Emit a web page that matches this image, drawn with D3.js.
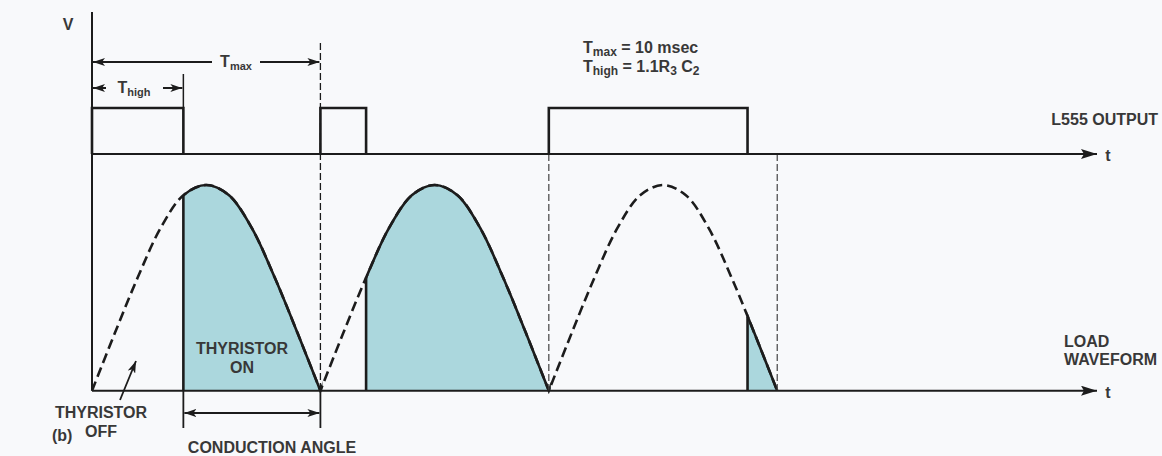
<!DOCTYPE html>
<html>
<head>
<meta charset="utf-8">
<script src="https://cdn.jsdelivr.net/npm/d3@7"></script>
<style>
  html, body { margin: 0; padding: 0; background: #f8f9fb; }
  svg { display: block; font-family: "Liberation Sans", Arial, sans-serif; }
  .lbl { fill: #383838; font-size: 16px; font-weight: bold; }
</style>
</head>
<body>
<svg width="1162" height="456"></svg>
<script>
// --- data (time in msec) ---
let halfPeriod = 10;                      // Tmax = 10 msec
let cycleStarts = [0, 10, 20];            // mains half cycles
let firingTimes = [4.0, 12.0, 28.7];      // thyristor fires at end of L555 pulse
let pulses = [[0, 4.0], [10, 12.0], [20, 28.7]];   // L555 output high intervals
let halfCycle = [0, 0.28, 0.55, 0.79, 0.95, 1, 0.95, 0.79, 0.55, 0.28, 0]; // amplitude at 1 ms steps
let tMax = 44;

let svg = d3.select("svg");
let x = d3.scaleLinear().domain([0, tMax]).range([92, 1097]);
let yOut = d3.scaleLinear().domain([0, 1]).range([154, 108]);
let yLoad = d3.scaleLinear().domain([0, 1]).range([390.7, 185]);
let ink = "#1c1c1c";

let defs = svg.append("defs");
defs.append("marker").attr("id", "arr")
    .attr("viewBox", "0 0 12 8").attr("refX", 12).attr("refY", 4)
    .attr("markerWidth", 12).attr("markerHeight", 8)
    .attr("markerUnits", "userSpaceOnUse").attr("orient", "auto-start-reverse")
    .append("path").attr("d", "M0,0 L12,4 L0,8 L3,4 Z").attr("fill", ink);
defs.append("marker").attr("id", "axarr")
    .attr("viewBox", "0 0 16 10").attr("refX", 16).attr("refY", 5)
    .attr("markerWidth", 16).attr("markerHeight", 10)
    .attr("markerUnits", "userSpaceOnUse").attr("orient", "auto")
    .append("path").attr("d", "M0,0 L16,5 L0,10 L3,5 Z").attr("fill", ink);

// points of the load waveform
let pts = [];
cycleStarts.forEach(c => halfCycle.forEach((v, i) => pts.push([c + i * halfPeriod / (halfCycle.length - 1), v])));
let steps = halfCycle.map((v, i) => i * halfPeriod / (halfCycle.length - 1));
let interp = d3.scaleLinear().domain(steps).range(halfCycle);

let line = d3.line().x(d => x(d[0])).y(d => yLoad(d[1])).curve(d3.curveCatmullRom);
let area = d3.area().x(d => x(d[0])).y0(yLoad(0)).y1(d => yLoad(d[1])).curve(d3.curveCatmullRom);

// clip regions: from firing to end of its half cycle
firingTimes.forEach((f, i) => {
    let end = cycleStarts[i] + halfPeriod;
    defs.append("clipPath").attr("id", "on" + i)
        .append("rect").attr("x", x(f)).attr("y", 0)
        .attr("width", x(end) - x(f) + 2).attr("height", yLoad(0));
});

// filled conduction areas
firingTimes.forEach((f, i) => {
    svg.append("path").datum(pts).attr("d", area)
        .attr("fill", "#abd7dd").attr("clip-path", "url(#on" + i + ")");
});

// dashed (thyristor off) waveform
svg.append("path").datum(pts).attr("d", line)
    .attr("fill", "none").attr("stroke", ink).attr("stroke-width", 2.6)
    .attr("stroke-dasharray", "10,5");

// solid conducting parts
firingTimes.forEach((f, i) => {
    svg.append("path").datum(pts).attr("d", line)
        .attr("fill", "none").attr("stroke", ink).attr("stroke-width", 2.6)
        .attr("clip-path", "url(#on" + i + ")");
    svg.append("line")
        .attr("x1", x(f)).attr("x2", x(f))
        .attr("y1", yLoad(0)).attr("y2", yLoad(interp(f - cycleStarts[i])))
        .attr("stroke", ink).attr("stroke-width", 2.6);
});

// dashed verticals at cycle boundaries
svg.append("line").attr("x1", x(10)).attr("x2", x(10)).attr("y1", 43).attr("y2", yLoad(0))
    .attr("stroke", ink).attr("stroke-width", 1.3).attr("stroke-dasharray", "7,3");
[20, 30].forEach(t => svg.append("line").attr("x1", x(t)).attr("x2", x(t))
    .attr("y1", yOut(0)).attr("y2", yLoad(0))
    .attr("stroke", "#444").attr("stroke-width", 1.2).attr("stroke-dasharray", "7,3"));

// L555 output pulses
svg.selectAll(".pulse").data(pulses).enter().append("path")
    .attr("class", "pulse")
    .attr("d", d => `M${x(d[0])},${yOut(0)} V${yOut(1)} H${x(d[1])} V${yOut(0)}`)
    .attr("fill", "none").attr("stroke", ink).attr("stroke-width", 2.6);

// axes
svg.append("line").attr("x1", x(0)).attr("x2", x(0)).attr("y1", 12).attr("y2", yLoad(0))
    .attr("stroke", ink).attr("stroke-width", 2);
[yOut(0), yLoad(0)].forEach(yy => svg.append("line")
    .attr("x1", x(0)).attr("x2", x(tMax)).attr("y1", yy).attr("y2", yy)
    .attr("stroke", ink).attr("stroke-width", 2).attr("marker-end", "url(#axarr)"));

// Tmax / Thigh dimension arrows
function dim(x1, x2, y, gap1, gap2) {
    svg.append("line").attr("x1", x1).attr("x2", gap1).attr("y1", y).attr("y2", y)
        .attr("stroke", ink).attr("stroke-width", 2).attr("marker-start", "url(#arr)");
    svg.append("line").attr("x1", gap2).attr("x2", x2).attr("y1", y).attr("y2", y)
        .attr("stroke", ink).attr("stroke-width", 2).attr("marker-end", "url(#arr)");
}
dim(x(0) + 1, x(10) - 1, 62, 212, 260);
dim(x(0) + 1, x(4.0) - 1, 88, 106, 163);
svg.append("line").attr("x1", x(4.0)).attr("x2", x(4.0)).attr("y1", 74).attr("y2", yOut(1))
    .attr("stroke", ink).attr("stroke-width", 1.5);

function tsub(xx, yy, sub, anchor, size) {
    let t = svg.append("text").attr("class", "lbl").attr("x", xx).attr("y", yy)
        .attr("text-anchor", anchor || "start").attr("font-size", size || 15);
    t.append("tspan").text("T");
    t.append("tspan").attr("dy", 3).attr("font-size", (size || 15) - 4).text(sub);
    return t;
}
tsub(236, 67, "max", "middle");
tsub(134, 93, "high", "middle");

// conduction angle arrow
[x(4.0), x(10)].forEach(xx => svg.append("line").attr("x1", xx).attr("x2", xx)
    .attr("y1", yLoad(0)).attr("y2", 428).attr("stroke", ink).attr("stroke-width", 1.8));
svg.append("line").attr("x1", x(4.0) + 1).attr("x2", x(10) - 1).attr("y1", 413).attr("y2", 413)
    .attr("stroke", ink).attr("stroke-width", 2)
    .attr("marker-start", "url(#arr)").attr("marker-end", "url(#arr)");

// thyristor off pointer
svg.append("line").attr("x1", 120).attr("y1", 400).attr("x2", 136).attr("y2", 361)
    .attr("stroke", ink).attr("stroke-width", 1.8).attr("marker-end", "url(#arr)");

// labels
let txt = (s, xx, yy, anchor, size) => svg.append("text").attr("class", "lbl")
    .attr("x", xx).attr("y", yy).attr("text-anchor", anchor || "start")
    .attr("font-size", size || 16).text(s);
txt("V", 68, 30, "middle", 15).attr("font-weight", "normal");
txt("t", 1108, 161, "middle", 15).attr("font-weight", "normal");
txt("t", 1108, 398, "middle", 15).attr("font-weight", "normal");
txt("L555 OUTPUT", 1158, 125, "end", 17);
txt("LOAD", 1064, 347);
txt("WAVEFORM", 1064, 365);
txt("THYRISTOR", 242, 354, "middle", 16.5);
txt("ON", 242, 373, "middle", 16.5);
txt("THYRISTOR", 101, 418, "middle", 16.5);
txt("OFF", 101, 437, "middle", 16.5);
txt("CONDUCTION ANGLE", 272, 453, "middle", 18);
txt("(b)", 52, 441, "start", 14);

let f1 = tsub(583, 53, "max", "start", 16);
f1.append("tspan").attr("dy", -3).text(" = 10 msec");
let f2 = tsub(583, 72, "high", "start", 16);
f2.append("tspan").attr("dy", -3).text(" = 1.1R");
f2.append("tspan").attr("dy", 3).attr("font-size", 12).text("3");
f2.append("tspan").attr("dy", -3).text(" C");
f2.append("tspan").attr("dy", 3).attr("font-size", 12).text("2");
</script>
</body>
</html>
